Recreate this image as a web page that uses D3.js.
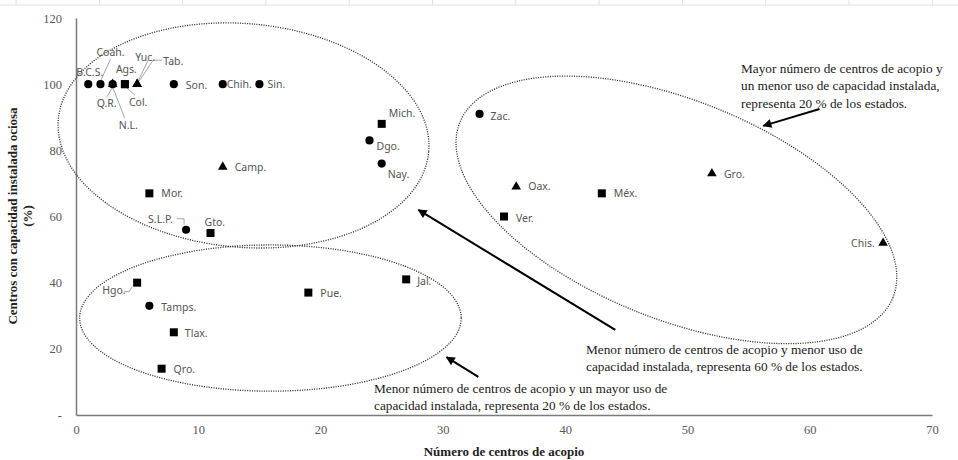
<!DOCTYPE html>
<html lang="es">
<head>
<meta charset="UTF-8">
<title>Centros de acopio y capacidad instalada ociosa</title>
<style>
  body { margin: 0; background: #fff; }
  svg { display: block; }
  .lbl { font-family: "Noto Sans", "Open Sans", sans-serif; font-size: 10.5px; fill: #555; }
  .tick text { font-family: "Liberation Serif", serif; font-size: 12.5px; fill: #595959; }
  .note { font-family: "Liberation Serif", serif; font-size: 13.3px; fill: #1a1a1a; }
  .title { font-family: "Liberation Serif", serif; font-size: 13px; font-weight: bold; fill: #222; }
</style>
</head>
<body>
<svg id="chart" width="958" height="460"></svg>
<script src="https://d3js.org/d3.v7.min.js"></script>
<script>
// estados y valores
var states = ["B.C.S.", "Coah.", "Q.R.", "N.L.", "Ags.", "Col.", "Yuc.", "Tab.", "Son.", "Chih.",
              "Sin.", "Camp.", "Mor.", "S.L.P.", "Gto.", "Hgo.", "Tamps.", "Tlax.", "Qro.", "Pue.",
              "Jal.", "Mich.", "Dgo.", "Nay.", "Zac.", "Oax.", "Ver.", "Méx.", "Gro.", "Chis."];
var centros = [1, 2, 3, 3, 4, 4, 5, 5, 8, 12,
               15, 12, 6, 9, 11, 5, 6, 8, 7, 19,
               27, 25, 24, 25, 33, 36, 35, 43, 52, 66];
var ociosa = [100, 100, 100, 100, 100, 100, 100, 100, 100, 100,
              100, 75, 67, 56, 55, 40, 33, 25, 14, 37,
              41, 88, 83, 76, 91, 69, 60, 67, 73, 52];
var shapes = ["c", "c", "c", "t", "s", "s", "t", "t", "c", "c",
              "c", "t", "s", "c", "s", "s", "c", "s", "s", "s",
              "s", "s", "c", "c", "c", "t", "s", "s", "t", "t"];
var xTicks = [0, 10, 20, 30, 40, 50, 60, 70];
var yTicks = [0, 20, 40, 60, 80, 100, 120];

// label placement (pixel offset from the point)
var labelPos = {
  "B.C.S.": [-12, -12], "Coah.": [-4, -32], "Q.R.": [-16, 19], "N.L.": [6, 41],
  "Ags.": [-9, -15], "Col.": [4, 18], "Yuc.": [-2, -27], "Tab.": [26, -23],
  "Son.": [12, 1], "Chih.": [4, 0], "Sin.": [8, 0], "Camp.": [12, 0],
  "Mor.": [12, 0], "S.L.P.": [-38, -10], "Gto.": [-6, -11], "Hgo.": [-35, 8],
  "Tamps.": [12, 1], "Tlax.": [11, 1], "Qro.": [12, 1], "Pue.": [12, 1],
  "Jal.": [11, 2], "Mich.": [7, -11], "Dgo.": [7, 6], "Nay.": [6, 11],
  "Zac.": [11, 2], "Oax.": [12, 0], "Ver.": [12, 2], "Méx.": [12, 0],
  "Gro.": [12, 1], "Chis.": [-32, 0]
};
var leaders = {
  "Coah.": [[10, -25], [0, -3]], "Q.R.": [[-6, 13], [0, 3]], "N.L.": [[12, 34], [0, 3]],
  "Col.": [[10, 11], [0, 2]], "Yuc.": [[11, -24], [1, -3]],
  "Tab.": [[25, -24], [16, -24], [2, -3]],
  "S.L.P.": [[-9, -11], [-2, -11], [-2, -5]], "Hgo.": [[-13, 9], [-8, 9], [-5, 4]]
};

// grupos (elipses) en unidades de los ejes
var groups = [
  { cx: 13.7, cy: 84.5, rx: 15.2, ry: 33.8, rot: 5 },
  { cx: 15.9, cy: 29.3, rx: 15.6, ry: 22.1, rot: 0 },
  { cx: 49.1, cy: 62, rx: 19.1, ry: 33, rot: 22 }
];
var arrows = [
  [[60.8, 92.5], [56.2, 87.4]],
  [[44.1, 25.7], [28.0, 62.0]],
  [[32.9, 11.5], [30.3, 17.5]]
];
var notes = [
  { x: 741, y: 68, lines: ["Mayor número de centros de acopio y", "un menor uso de capacidad instalada,", "representa 20 % de los estados."] },
  { x: 586, y: 349, lines: ["Menor número de centros de acopio y menor uso de", "capacidad instalada, representa 60 % de los estados."] },
  { x: 374, y: 388, lines: ["Menor número de centros de acopio y un mayor uso de", "capacidad instalada, representa 20 % de los estados."] }
];

var svg = d3.select("#chart");

// faint sheet border at top
svg.append("line").attr("x1", 0).attr("x2", 958).attr("y1", 5).attr("y2", 5)
   .attr("stroke", "#e0e0e0");
d3.range(16, 958, 83.3).forEach(function(t) {
  svg.append("line").attr("x1", t).attr("x2", t).attr("y1", 0).attr("y2", 5)
     .attr("stroke", "#e0e0e0");
});

var x = d3.scaleLinear().domain([0, 70]).range([76, 932]);
var y = d3.scaleLinear().domain([0, 120]).range([415, 18]);

// notes (under the ellipses)
notes.forEach(function(n) {
  var t = svg.append("text").attr("class", "note");
  n.lines.forEach(function(l, i) {
    t.append("tspan").attr("x", n.x).attr("y", n.y + i * 17.5).attr("dy", "0.35em").text(l);
  });
});

// axes
svg.append("g")
   .attr("transform", "translate(0," + y(0) + ")")
   .call(d3.axisBottom(x).tickValues(xTicks).tickSize(0).tickPadding(10));
svg.append("g")
   .attr("transform", "translate(" + x(0) + ",0)")
   .call(d3.axisLeft(y).tickValues(yTicks).tickSize(0).tickPadding(14)
         .tickFormat(function(d) { return d === 0 ? "-" : d; }));
svg.selectAll(".domain").attr("stroke", "#7a7a7a").attr("stroke-width", 1.5);

svg.append("text").attr("class", "title")
   .attr("x", (x(0) + x(70)) / 2).attr("y", 456)
   .attr("text-anchor", "middle")
   .text("Número de centros de acopio");

var yt = svg.append("text").attr("class", "title")
   .attr("transform", "translate(0," + 216 + ") rotate(-90)")
   .attr("text-anchor", "middle");
yt.append("tspan").attr("x", 0).attr("y", 17).text("Centros con capacidad instalada ociosa");
yt.append("tspan").attr("x", 0).attr("y", 32).text("(%)");

// ellipses
groups.forEach(function(g) {
  var cx = x(g.cx), cy = y(g.cy);
  svg.append("ellipse")
     .attr("cx", cx).attr("cy", cy)
     .attr("rx", x(g.rx) - x(0)).attr("ry", y(0) - y(g.ry))
     .attr("transform", "rotate(" + g.rot + "," + cx + "," + cy + ")")
     .attr("fill", "none").attr("stroke", "#333")
     .attr("stroke-width", 1.3).attr("stroke-dasharray", "1.1,1.3");
});

// arrows
svg.append("defs").append("marker")
   .attr("id", "head").attr("viewBox", "0 0 10 10")
   .attr("refX", 9).attr("refY", 5)
   .attr("markerWidth", 11).attr("markerHeight", 9)
   .attr("markerUnits", "userSpaceOnUse")
   .attr("orient", "auto")
   .append("path").attr("d", "M0,0L10,5L0,10Z").attr("fill", "#000");

arrows.forEach(function(a) {
  svg.append("line")
     .attr("x1", x(a[0][0])).attr("y1", y(a[0][1]))
     .attr("x2", x(a[1][0])).attr("y2", y(a[1][1]))
     .attr("stroke", "#000").attr("stroke-width", 2)
     .attr("marker-end", "url(#head)");
});

// data
var data = states.map(function(s, i) {
  return { name: s, x: centros[i], y: ociosa[i], shape: shapes[i] };
});

var symType = { c: d3.symbolCircle, s: d3.symbolSquare, t: d3.symbolTriangle };
var symSize = { c: 52, s: 64, t: 40 };

// leader lines
data.forEach(function(d) {
  var l = leaders[d.name];
  if (!l) return;
  var px = x(d.x), py = y(d.y);
  svg.append("path")
     .attr("d", d3.line()(l.map(function(p) { return [px + p[0], py + p[1]]; })))
     .attr("fill", "none").attr("stroke", "#9a9a9a").attr("stroke-width", 0.9);
});

// draw triangles first so circles / squares sit on top
var order = data.slice().sort(function(a, b) {
  var r = { t: 0, s: 1, c: 2 };
  return r[a.shape] - r[b.shape];
});

svg.append("g").selectAll("path")
   .data(order)
   .enter().append("path")
   .attr("transform", function(d) { return "translate(" + x(d.x) + "," + y(d.y) + ")"; })
   .attr("d", function(d) { return d3.symbol().type(symType[d.shape]).size(symSize[d.shape])(); })
   .attr("fill", "#000");

svg.append("g").selectAll("text")
   .data(data)
   .enter().append("text")
   .attr("class", "lbl")
   .attr("x", function(d) { return x(d.x) + labelPos[d.name][0]; })
   .attr("y", function(d) { return y(d.y) + labelPos[d.name][1]; })
   .attr("dy", "0.35em")
   .text(function(d) { return d.name; });
</script>
</body>
</html>
